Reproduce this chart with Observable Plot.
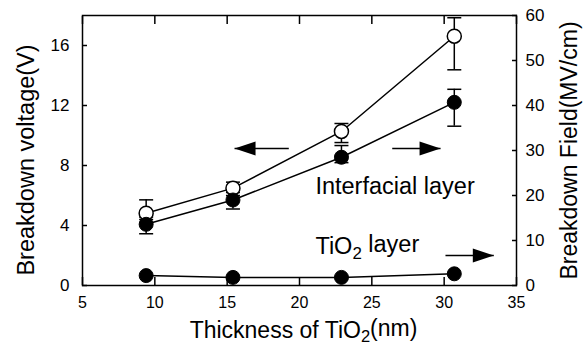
<!DOCTYPE html>
<html><head><meta charset="utf-8">
<script src="https://cdn.jsdelivr.net/npm/d3@7"></script>
<script src="https://cdn.jsdelivr.net/npm/@observablehq/plot@0.6"></script>
<style>html,body{margin:0;padding:0;background:#fff} svg{display:block}</style>
</head><body><div id="chart"></div>
<script>
// ---- data ----
const thickness = [9.4, 15.4, 22.9, 30.7];                 // nm
const voltage = [4.82, 6.49, 10.27, 16.62];               // V (open circles, left axis)
const voltageHigh = [5.71, 6.89, 10.8, 17.85];
const voltageLow = [4.4, 6.2, 9.53, 14.38];
const fieldInterfacial = [13.6, 19.0, 28.5, 40.7];        // MV/cm (filled, right axis)
const fieldInterfacialHigh = [15.2, 20.0, 31.1, 43.6];
const fieldInterfacialLow = [11.5, 17.0, 27.3, 35.4];
const fieldTiO2 = [2.2, 1.8, 1.8, 2.6];                   // MV/cm (filled, right axis)
const xTicks = [5, 10, 15, 20, 25, 30, 35];
const yLeftTicks = [0, 4, 8, 12, 16];
const yRightTicks = [0, 10, 20, 30, 40, 50, 60];
const voltageMax = 18, fieldMax = 60;
const labelTexts = ["Interfacial layer", "TiO2 layer"];
const labelX = [21.1, 21.1];
const labelY = [6.11, 2.11];
const arrowFrom = [19.26, 26.41, 30.09];
const arrowTo = [15.51, 29.75, 33.43];
const arrowY = [9.14, 9.14, 2.0];

// ---- derived tables ----
const k = voltageMax / fieldMax; // field -> left-axis units
const rows = thickness.map((t, i) => ({
  t,
  v: voltage[i], vHi: voltageHigh[i], vLo: voltageLow[i],
  f: fieldInterfacial[i] * k, fHi: fieldInterfacialHigh[i] * k, fLo: fieldInterfacialLow[i] * k,
  g: fieldTiO2[i] * k
}));
const labels = labelTexts.map((text, i) => ({text, x: labelX[i], y: labelY[i]}));
const arrows = arrowFrom.map((x1, i) => ({x1, x2: arrowTo[i], y: arrowY[i], rot: arrowTo[i] > x1 ? 0 : 180}));

const capSymbol = {draw(ctx) { ctx.moveTo(-7, 0); ctx.lineTo(7, 0); }};
const headSymbol = {draw(ctx) { ctx.moveTo(0, 0); ctx.lineTo(-21, -7); ctx.lineTo(-21, 7); ctx.closePath(); }};

const font = "'Liberation Sans', Arial, Helvetica, sans-serif";
const lw = 1.5;

const chart = Plot.plot({
  width: 584, height: 347,
  marginLeft: 82, marginRight: 68, marginTop: 15, marginBottom: 62,
  x: {domain: [5, 35], label: null},
  y: {domain: [0, voltageMax], label: null},
  style: {fontFamily: font, fontSize: "16px", color: "black", background: "white", overflow: "visible"},
  marks: [
    // inward ticks
    Plot.axisX({anchor: "bottom", ticks: xTicks, tickSize: -8, tickFormat: () => "", label: null, strokeWidth: lw}),
    Plot.axisX({anchor: "top", ticks: xTicks, tickSize: -8, tickFormat: () => "", label: null, strokeWidth: lw}),
    Plot.axisY({anchor: "left", ticks: yLeftTicks, tickSize: -5, tickFormat: () => "", label: null, strokeWidth: lw}),
    Plot.axisY({anchor: "right", ticks: yRightTicks.map(d => d * k), tickSize: -5, tickFormat: () => "", label: null, strokeWidth: lw}),
    // tick labels
    Plot.axisX({anchor: "bottom", ticks: xTicks, tickSize: 0, tickPadding: 11, fontSize: 16, label: null}),
    Plot.axisY({anchor: "left", ticks: yLeftTicks, tickSize: 0, tickPadding: 13, fontSize: 17, label: null}),
    Plot.axisY({anchor: "right", ticks: yRightTicks.map(d => d * k), tickSize: 0, tickPadding: 9, fontSize: 17, label: null,
      tickFormat: d => String(Math.round(d / k))}),
    Plot.frame({stroke: "black", strokeWidth: lw}),
    // axis titles
    Plot.text(["Breakdown voltage(V)"], {frameAnchor: "left", textAnchor: "middle", lineAnchor: "middle", dx: -56, dy: 9.5, rotate: -90, fontSize: 23.5, text: d => d}),
    Plot.text(["Breakdown Field(MV/cm)"], {frameAnchor: "right", textAnchor: "middle", lineAnchor: "middle", dx: 53, dy: 0, rotate: -90, fontSize: 23, text: d => d}),
    Plot.text(["Thickness of TiO2(nm)"], {frameAnchor: "bottom", textAnchor: "middle", dx: 4, dy: 52, lineAnchor: "bottom", fontSize: 23, text: d => d}),
    // lines
    Plot.line(rows, {x: "t", y: "g", stroke: "black", strokeWidth: lw}),
    Plot.line(rows, {x: "t", y: "f", stroke: "black", strokeWidth: lw}),
    Plot.line(rows, {x: "t", y: "v", stroke: "black", strokeWidth: lw}),
    // error bars
    Plot.ruleX(rows, {x: "t", y1: "vLo", y2: "vHi", stroke: "black", strokeWidth: lw}),
    Plot.ruleX(rows, {x: "t", y1: "fLo", y2: "fHi", stroke: "black", strokeWidth: lw}),
    Plot.dot(rows, {x: "t", y: "vHi", symbol: capSymbol, fill: "none", stroke: "black", strokeWidth: lw}),
    Plot.dot(rows, {x: "t", y: "vLo", symbol: capSymbol, fill: "none", stroke: "black", strokeWidth: lw}),
    Plot.dot(rows, {x: "t", y: "fHi", symbol: capSymbol, fill: "none", stroke: "black", strokeWidth: lw}),
    Plot.dot(rows, {x: "t", y: "fLo", symbol: capSymbol, fill: "none", stroke: "black", strokeWidth: lw}),
    // points
    Plot.dot(rows, {x: "t", y: "g", r: 7, fill: "black", stroke: "black", strokeWidth: 1}),
    Plot.dot(rows, {x: "t", y: "v", r: 7, fill: "white", stroke: "black", strokeWidth: lw}),
    Plot.dot(rows, {x: "t", y: "f", r: 7, fill: "black", stroke: "black", strokeWidth: 1}),
    // arrows
    Plot.link(arrows, {x1: "x1", x2: "x2", y1: "y", y2: "y", stroke: "black", strokeWidth: lw}),
    Plot.dot(arrows, {x: "x2", y: "y", symbol: headSymbol, rotate: "rot", fill: "black", stroke: "none"}),
    // annotations
    Plot.text(labels, {x: "x", y: "y", text: "text", textAnchor: "start", lineAnchor: "bottom", fontSize: 23.5})
  ]
});

// subscript the "2" in TiO2
d3.select(chart).selectAll("text").each(function() {
  const el = d3.select(this);
  if (this.querySelector("tspan")) return;
  const s = this.textContent;
  const idx = s.indexOf("TiO2");
  if (idx < 0) return;
  el.text(null);
  el.append("tspan").text(s.slice(0, idx + 3));
  el.append("tspan").attr("dy", "0.3em").attr("font-size", "0.72em").text("2");
  el.append("tspan").attr("dy", "-0.3em").text(s.slice(idx + 4));
});

document.getElementById("chart").append(chart);
</script>
</body></html>
